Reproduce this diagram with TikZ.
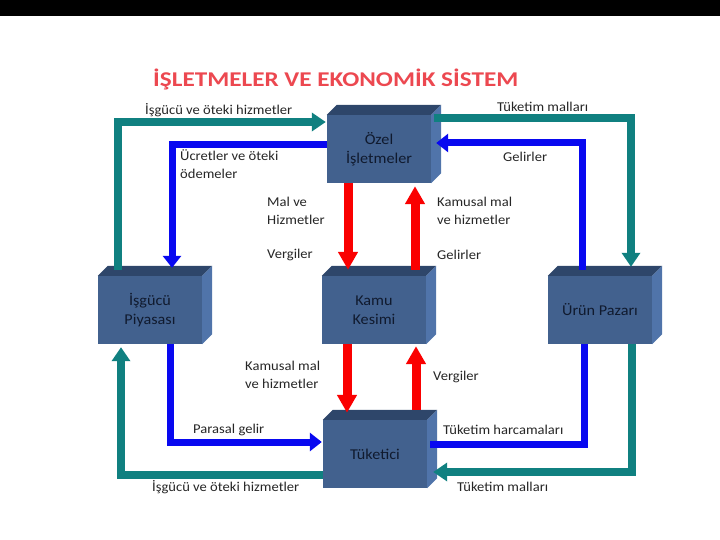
\documentclass[tikz,border=0pt]{standalone}
\usepackage{fontspec}
\setmainfont{Carlito}
\newfontfamily\widefont[FakeStretch=1.08]{Carlito}
\newfontfamily\titlefont[FakeStretch=1.2]{Carlito}
\usetikzlibrary{arrows.meta,calc}

\definecolor{boxfront}{RGB}{66,97,142}
\definecolor{boxtop}{RGB}{46,70,106}
\definecolor{boxside}{RGB}{80,116,170}
\definecolor{boxtext}{RGB}{16,26,46}
\definecolor{flowteal}{RGB}{16,128,128}
\definecolor{flowblue}{RGB}{8,8,240}
\definecolor{flowred}{RGB}{250,0,0}
\definecolor{titlered}{RGB}{236,72,80}

\tikzset{
  sector/.style={fill=boxfront,minimum width=104pt,minimum height=68pt,inner sep=0pt,
    align=center,text=boxtext,font=\widefont\fontsize{15}{19}\selectfont},
  lbl/.style={anchor=west,align=left,inner sep=0pt,text=black!85,
    font=\widefont\fontsize{13.5}{17.5}\selectfont},
  tealflow/.style={draw=flowteal,line width=7.5pt,-{Triangle[width=18pt,length=14pt]}},
  blueflow/.style={draw=flowblue,line width=7pt,-{Triangle[width=18pt,length=12pt]}},
  blueline/.style={draw=flowblue,line width=7pt},
  redflow/.style={draw=flowred,line width=9pt,-{Triangle[width=19pt,length=18pt]}}
}

\begin{document}
\begin{tikzpicture}[x=1pt,y=-1pt]
\useasboundingbox (0,0) rectangle (720,540);
\fill[black] (0,0) rectangle (720,16);

% title
\node[anchor=west,inner sep=0pt,text=titlered,font=\titlefont\fontsize{21}{24}\selectfont\bfseries] (title) at (153,79) {İŞLETMELER VE EKONOMİK SİSTEM};

% sectors
\node[sector] (ozel) at (379,149) {Özel\\İşletmeler};
\node[sector] (isgucu) at (150,310) {İşgücü\\Piyasası};
\node[sector] (kamu) at (374,310) {Kamu\\Kesimi};
\node[sector] (urun) at (600,310) {Ürün Pazarı};
\node[sector] (tuketici) at (375,454) {Tüketici};

% top and side faces
\foreach \n in {ozel,isgucu,kamu,urun,tuketici}{
  \fill[boxtop] (\n.north west) -- ++(10,-10) -- ($(\n.north east)+(10,-10)$) -- (\n.north east) -- cycle;
  \fill[boxside] (\n.north east) -- ++(10,-10) -- ($(\n.south east)+(10,-10)$) -- (\n.south east) -- cycle;
}

% teal flows
\draw[tealflow] ($(isgucu.north west)+(20,-6)$) |- ($(ozel.west)+(-1,-27)$);
\draw[tealflow] ($(ozel.east)+(3,-31)$) -| ($(urun.north)+(31,-9)$);
\draw[tealflow] ($(urun.south)+(32,0)$) |- ($(tuketici.east)+(6,18)$);
\draw[tealflow] ($(tuketici.west)+(0,21)$) -| ($(isgucu.south)+(-29,3)$);

% blue flows
\draw[blueflow] (ozel.west |- 0,145) -| ($(isgucu.north)+(22,-8)$);
\draw[blueflow] ($(urun.north)+(-18,-6)$) |- ($(ozel.east)+(5,-6)$);
\draw[blueflow] ($(isgucu.south)+(20,0)$) |- ($(tuketici.west)+(-1,-12)$);
\draw[blueline] ($(tuketici.east)+(3,-10)$) -| ($(urun.south)+(-16,0)$);

% red flows
\draw[redflow] ($(ozel.south)+(-31,0)$) -- ($(kamu.north)+(-26,-6)$);
\draw[redflow] ($(kamu.north)+(41,-6)$) -- ($(ozel.south)+(36,3)$);
\draw[redflow] ($(kamu.south)+(-27,0)$) -- ($(tuketici.north)+(-28,-7)$);
\draw[redflow] ($(tuketici.north)+(41,-10)$) -- ($(kamu.south)+(42,2)$);

% labels
\node[lbl] (lIsgTop) at (145,110) {İşgücü ve öteki hizmetler};
\node[lbl] (lTukTop) at (497,107) {Tüketim malları};
\node[lbl] (lUcret) at (180,164) {Ücretler ve öteki\\ödemeler};
\node[lbl] (lGelTop) at (503,157) {Gelirler};
\node[lbl] (lMal) at (267,211) {Mal ve\\Hizmetler};
\node[lbl] (lVerTop) at (267,255) {Vergiler};
\node[lbl] (lKamTop) at (437,211) {Kamusal mal\\ve hizmetler};
\node[lbl] (lGelMid) at (437,255) {Gelirler};
\node[lbl] (lKamBot) at (245,375) {Kamusal mal\\ve hizmetler};
\node[lbl] (lVerBot) at (433,377) {Vergiler};
\node[lbl] (lParasal) at (193,430) {Parasal gelir};
\node[lbl] (lHarc) at (443,430) {Tüketim harcamaları};
\node[lbl] (lIsgBot) at (152,487) {İşgücü ve öteki hizmetler};
\node[lbl] (lTukBot) at (457,487) {Tüketim malları};
\end{tikzpicture}
\end{document}
